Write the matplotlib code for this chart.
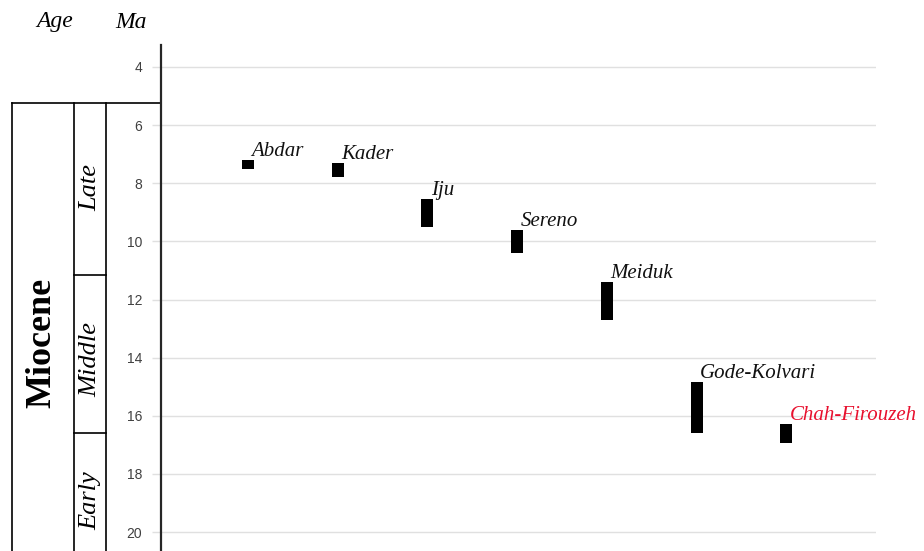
import numpy as np
import matplotlib.pyplot as plt

# Age ranges (Ma) of the porphyry deposits
deposits = ["Abdar", "Kader", "Iju", "Sereno", "Meiduk", "Gode-Kolvari", "Chah-Firouzeh"]
age_young = [7.2, 7.3, 8.55, 9.6, 11.4, 14.85, 16.27]
age_old = [7.5, 7.8, 9.5, 10.4, 12.7, 16.6, 16.93]
label_colors = ["#111111"] * 6 + ["#e8102e"]

yticks = [4, 6, 8, 10, 12, 14, 16, 18, 20]

# Miocene subdivisions as drawn in the column (Ma)
epoch_top = 5.25
late_middle = 11.15
middle_early = 16.6

W, H = 924, 551
fig = plt.figure(figsize=(W / 100, H / 100), dpi=100)

ax = fig.add_axes([161 / W, 0, (876 - 161) / W, (551 - 45) / H])
col = fig.add_axes([12 / W, 0, (161 - 12) / W, (551 - 45) / H], sharey=ax)

x = np.arange(1, len(deposits) + 1)
heights = np.array(age_old) - np.array(age_young)
ax.bar(x, heights, bottom=age_young, width=0.134, color="black", zorder=3)

for xi, top, name, c in zip(x, age_young, deposits, label_colors):
    ax.annotate(name, (xi + 0.04, top), xytext=(0, 3), textcoords="offset points",
                ha="left", va="baseline", fontsize=15, color=c,
                family="Liberation Serif", style="italic", annotation_clip=False)

ax.set_xlim(0.03, 8.0)
ax.set_ylim(20.65, 3.244)
ax.set_yticks(yticks)
ax.set_xticks([])
ax.grid(axis="y", color="#e0e0e0", linewidth=1.0)
ax.set_axisbelow(True)
ax.tick_params(axis="y", length=6.5, width=1.0, color="#e0e0e0", pad=7,
               labelsize=10, labelcolor="#404040")
for lbl in ax.get_yticklabels():
    lbl.set_family("Liberation Sans")
for s in ["top", "right", "bottom"]:
    ax.spines[s].set_visible(False)
ax.spines["left"].set_color("#262626")
ax.spines["left"].set_linewidth(1.6)

# stratigraphic column on the left
col.set_xlim(0, 1)
col.axis("off")
col.patch.set_visible(False)
ax.set_zorder(col.get_zorder() + 1)
ax.patch.set_visible(False)
x_age, x_sub, x_ma = 0.0, 62 / 149, 94 / 149
lk = dict(color="black", linewidth=1.2, clip_on=False)
col.plot([0, 1], [epoch_top, epoch_top], **lk)
for xv in (x_age, x_sub, x_ma):
    col.plot([xv, xv], [epoch_top, 21], **lk)
for yv in (late_middle, middle_early):
    col.plot([x_sub, x_ma], [yv, yv], **lk)

xm = (x_sub + x_ma) / 2
col.text(0.2, 13.5, "Miocene", rotation=90, ha="center", va="center",
         family="Liberation Serif", weight="bold", fontsize=26)
col.text(xm, 8.15, "Late", rotation=90, ha="center", va="center",
         family="Liberation Serif", style="italic", fontsize=19)
col.text(xm, 14.05, "Middle", rotation=90, ha="center", va="center",
         family="Liberation Serif", style="italic", fontsize=19)
col.text(xm, 18.9, "Early", rotation=90, ha="center", va="center",
         family="Liberation Serif", style="italic", fontsize=19)

fig.text(55 / W, 1 - 22 / H, "Age", ha="center", va="center",
         family="Liberation Serif", style="italic", fontsize=17)
fig.text(131 / W, 1 - 22 / H, "Ma", ha="center", va="center",
         family="Liberation Serif", style="italic", fontsize=17)

fig.savefig("out.png", dpi=100)
